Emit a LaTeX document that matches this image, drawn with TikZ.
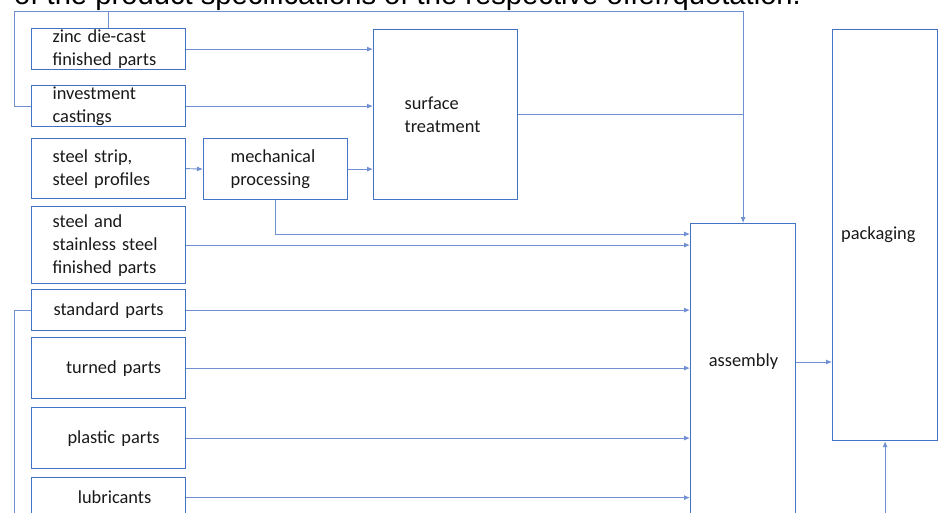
\documentclass[tikz,border=0pt]{standalone}
\usepackage{fontspec}
\setmainfont{Carlito}
\newfontfamily\headfont{Liberation Sans}
\usetikzlibrary{arrows.meta,positioning}
\definecolor{boxblue}{RGB}{68,114,196}
\definecolor{lineblue}{RGB}{112,144,210}

\begin{document}
\begin{tikzpicture}[x=1pt,y=-1pt]


\tikzset{
	part/.style={draw=boxblue, line width=1.2pt, anchor=north west,
      minimum width=154pt, text width=112pt, inner xsep=21pt, inner ysep=0pt,
      align=left, text=black!90, font=\fontsize{18.4}{23}\selectfont},
	stage/.style={draw=boxblue, line width=1.2pt, anchor=north west,
      minimum width=105pt},
	stagetext/.style={text=black!90, inner sep=0pt, font=\fontsize{18.4}{23}\selectfont},
	flow/.style={draw=lineblue, line width=0.9pt, -{Latex[length=6pt,width=5pt]}},
	link/.style={draw=lineblue, line width=0.9pt},
}

\useasboundingbox (0,0) rectangle (939,513);

% text cut off at the top
\node[font=\headfont\fontsize{29.2}{30}\selectfont, anchor=base west, inner sep=0pt]
  (caption) at (14,5) {of the product specifications of the respective offer/quotation.};

% incoming parts
\node[part, minimum height=41pt] (zinc) at (31,28) {zinc die-cast\\finished parts};
\node[part, minimum height=41pt] (invest) at (31,85) {investment\\castings};
\node[part, minimum height=60pt] (strip) at (31,138) {steel strip,\\steel profiles};
\node[part, minimum height=77pt] (stainless) at (31,206) {steel and\\stainless steel\\finished parts};
\node[part, minimum height=41pt, align=center] (standard) at (31,289) {standard parts};
\node[part, minimum height=61pt, align=center] (turned) at (31,337) {\hspace*{10pt}turned parts};
\node[part, minimum height=61pt, align=center] (plastic) at (31,407) {\hspace*{10pt}plastic parts};
\node[part, minimum height=40pt, align=center] (lubri) at (31,477) {\hspace*{12pt}lubricants};

% processing steps
\node[part, minimum width=144pt, text width=90pt, inner xsep=27pt, minimum height=61pt]
  (mech) at (203,138) {mechanical\\processing};
\node[part, minimum width=144pt, text width=82pt, inner xsep=31pt, minimum height=170pt]
  (surface) at (373,29) {surface\\treatment};
\node[stage, minimum height=300pt] (assembly) at (690,223) {};
\node[stagetext] (assemblylbl) at (743.5,362) {assembly};
\node[stage, minimum height=411pt] (packaging) at (832,29) {};
\node[stagetext, anchor=west] (packaginglbl) at (841,235) {packaging};

\coordinate (topright) at (assembly.north |- 0,11);
\coordinate (bottomleft) at (14,520);
\coordinate (packin) at (packaging.south |- 0,520);

% connectors
\draw[flow] (zinc.east) -- (zinc.east -| surface.west);
\draw[flow] (invest.east) -- (invest.east -| surface.west);
\draw[flow] (strip.east) -- (mech.west);
\draw[flow] (mech.east) -- (mech.east -| surface.west);
\draw[flow] (invest.west) -- ++(-17,0) |- (topright) -- (assembly.north);
\draw[link] (zinc.north) -- (zinc.north |- topright);
\draw[link] (surface.east) -- (surface.east -| topright);
\draw[flow] (mech.south) |- ([yshift=-11pt]assembly.north west);
\draw[flow] (stainless.east) -- (stainless.east -| assembly.west);
\draw[flow] (standard.east) -- (standard.east -| assembly.west);
\draw[flow] (turned.east) -- (turned.east -| assembly.west);
\draw[flow] (plastic.east) -- (plastic.east -| assembly.west);
\draw[flow] (lubri.east) -- (lubri.east -| assembly.west);
\draw[link] (standard.west) -| (bottomleft);
\draw[flow] (assemblylbl -| assembly.east) -- (assemblylbl -| packaging.west);
\draw[flow] (packin) -- (packaging.south);

\end{tikzpicture}
\end{document}
